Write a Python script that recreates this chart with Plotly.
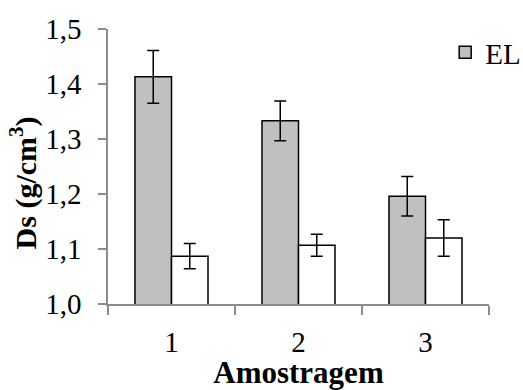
import plotly.graph_objects as go

categories = ["1", "2", "3"]
el_values = [1.413, 1.333, 1.196]
el_errors = [0.048, 0.036, 0.036]
other_values = [1.087, 1.107, 1.120]
other_errors = [0.023, 0.020, 0.033]
y_ticks = [1.0, 1.1, 1.2, 1.3, 1.4, 1.5]

FONT = "Liberation Serif"
AXIS_GRAY = "#8c8c8c"
TICK_SIZE = 29
TITLE_SIZE = 31

fig = go.Figure()
fig.add_trace(go.Bar(
    x=categories, y=el_values, name="EL",
    marker=dict(color="#c0c0c0", line=dict(color="black", width=1.5)),
    error_y=dict(type="data", array=el_errors, color="black", thickness=1.5, width=6),
))
fig.add_trace(go.Bar(
    x=categories, y=other_values, name="EL2", showlegend=False,
    marker=dict(color="white", line=dict(color="black", width=1.5)),
    error_y=dict(type="data", array=other_errors, color="black", thickness=1.5, width=6),
))

fig.update_layout(
    width=523, height=390,
    margin=dict(l=108, r=34, t=29, b=86, autoexpand=False),
    paper_bgcolor="white", plot_bgcolor="white",
    barmode="group", bargap=0.425, bargroupgap=0,
    separators=",.",
    font=dict(family=FONT, size=TICK_SIZE, color="black"),
    showlegend=True,
    legend=dict(x=0.885, y=0.915, xanchor="left", yanchor="middle",
                bgcolor="rgba(0,0,0,0)", font=dict(size=TICK_SIZE, family=FONT),
                itemwidth=30, tracegroupgap=0),
)
fig.update_xaxes(
    type="category", showline=True, linecolor=AXIS_GRAY, linewidth=1.5,
    ticks="outside", tickson="boundaries", ticklen=9, tickcolor=AXIS_GRAY, tickwidth=1.5,
    showgrid=False, zeroline=False,
    tickfont=dict(size=TICK_SIZE, family=FONT),
    ticklabelstandoff=11,
    title=dict(text="<b>Amostragem</b>", font=dict(size=TITLE_SIZE, family=FONT), standoff=7),
)
fig.update_yaxes(
    range=[1.0, 1.5], tickvals=y_ticks, tickformat=".1f",
    showline=True, linecolor=AXIS_GRAY, linewidth=1.5,
    ticks="outside", ticklen=8, tickcolor=AXIS_GRAY, tickwidth=1.5,
    showgrid=False, zeroline=False,
    tickfont=dict(size=TICK_SIZE, family=FONT),
    ticklabelstandoff=11,
)
fig.add_annotation(
    text="<b>Ds (g/cm<sup>3</sup>)</b>", textangle=-90,
    xref="paper", yref="paper", x=-0.222, y=0.44,
    xanchor="center", yanchor="middle", showarrow=False,
    font=dict(size=30, family=FONT),
)

fig.write_html("out.html", config={"displayModeBar": False},
               post_script="document.body.style.margin='0px';")
